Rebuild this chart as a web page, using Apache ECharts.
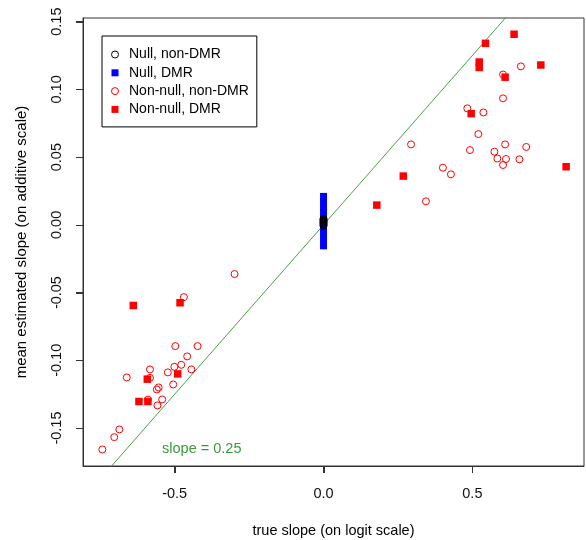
<!DOCTYPE html>
<html>
<head>
<meta charset="utf-8">
<script src="https://cdn.jsdelivr.net/npm/echarts@6/dist/echarts.min.js"></script>
<style>html,body{margin:0;padding:0;background:#fff;}#c{width:586px;height:540px;}</style>
</head>
<body>
<div id="c"></div>
<script>
// ---- data ----
const seriesNames = ['Null, non-DMR', 'Null, DMR', 'Non-null, non-DMR', 'Non-null, DMR'];
const xTicks = [-0.5, 0.0, 0.5];
const yTicks = [-0.15, -0.10, -0.05, 0.00, 0.05, 0.10, 0.15];
const xRange = [-0.808, 0.875];
const yRange = [-0.178, 0.1527];
const refSlope = 0.25;
const refLabel = 'slope = 0.25';

const nullNonDMR = [
  [0, 0.0045], [0, 0.0038], [0, 0.0030], [0, 0.0023], [0, 0.0015], [0, 0.0008], [0, 0.0000], [0, -0.0007]
];
const nullDMR = [
  [0, 0.0210], [0, 0.0170], [0, 0.0130], [0, 0.0090], [0, 0.0050], [0, 0.0010],
  [0, -0.0030], [0, -0.0070], [0, -0.0110], [0, -0.0155]
];
const nonNullNonDMR = [
  [0.663, 0.1170], [0.603, 0.1110], [0.603, 0.0934], [0.483, 0.0860], [0.537, 0.0830],
  [0.520, 0.0670], [0.294, 0.0594], [0.610, 0.0594], [0.681, 0.0575], [0.492, 0.0552],
  [0.574, 0.0540], [0.584, 0.0490], [0.613, 0.0486], [0.658, 0.0484], [0.603, 0.0442],
  [0.401, 0.0422], [0.428, 0.0373], [0.344, 0.0174],
  [-0.299, -0.0363], [-0.469, -0.0533], [-0.498, -0.0895], [-0.423, -0.0895], [-0.458, -0.0971],
  [-0.583, -0.1067], [-0.501, -0.1048], [-0.478, -0.1033], [-0.523, -0.1089], [-0.444, -0.1067],
  [-0.661, -0.1126], [-0.583, -0.1129], [-0.554, -0.1200], [-0.560, -0.1215], [-0.505, -0.1178],
  [-0.542, -0.1289], [-0.558, -0.1333], [-0.590, -0.1290], [-0.686, -0.1510], [-0.703, -0.1567],
  [-0.743, -0.1658]
];
const nonNullDMR = [
  [0.640, 0.1407], [0.544, 0.1340], [0.523, 0.1202], [0.523, 0.1162], [0.730, 0.1180],
  [0.610, 0.1090], [0.496, 0.0821], [0.815, 0.0429], [0.268, 0.0360], [0.179, 0.0146],
  [-0.639, -0.0595], [-0.482, -0.0575], [-0.592, -0.1139], [-0.490, -0.1100],
  [-0.620, -0.1304], [-0.590, -0.1304]
];

const FONT = '"Liberation Sans", Arial, sans-serif';
const chart = echarts.init(document.getElementById('c'), null, {renderer: 'canvas'});
const sq = 'path://M0,0L10,0L10,10L0,10Z';

chart.setOption({
  animation: false,
  backgroundColor: '#fff',
  textStyle: {fontFamily: FONT},
  grid: {left: 83, right: 2, top: 18, bottom: 74, containLabel: false, outerBoundsMode: 'none',
    show: true, borderColor: '#333', borderWidth: 1, backgroundColor: 'transparent'},
  legend: {
    orient: 'vertical', left: 102, top: 36,
    padding: [11.5, 8, 10.5, 9], itemGap: 4.3, itemWidth: 18, itemHeight: 7,
    borderColor: '#000', borderWidth: 1, borderRadius: 0,
    textStyle: {fontSize: 14, color: '#000', fontFamily: FONT},
    selectedMode: false,
    data: [
      {name: seriesNames[0], icon: 'circle', itemStyle: {color: 'rgba(0,0,0,0)', borderColor: '#000', borderWidth: 1}},
      {name: seriesNames[1], icon: sq, itemStyle: {color: '#0000ff', borderWidth: 0}},
      {name: seriesNames[2], icon: 'circle', itemStyle: {color: 'rgba(0,0,0,0)', borderColor: '#ff0000', borderWidth: 1}},
      {name: seriesNames[3], icon: sq, itemStyle: {color: '#ff0000', borderWidth: 0}}
    ]
  },
  xAxis: {
    type: 'value', min: xRange[0], max: xRange[1],
    name: 'true slope (on logit scale)', nameLocation: 'middle', nameGap: 57,
    nameTextStyle: {fontSize: 14.5, color: '#000', fontFamily: FONT},
    axisLine: {show: true, onZero: false, lineStyle: {color: '#333', width: 1}},
    splitLine: {show: false},
    axisTick: {show: true, inside: false, length: 7, lineStyle: {color: '#333'}, customValues: xTicks},
    axisLabel: {show: true, margin: 20, fontSize: 14.5, color: '#111', fontFamily: FONT, customValues: xTicks,
      formatter: v => v.toFixed(1)}
  },
  yAxis: {
    type: 'value', min: yRange[0], max: yRange[1],
    name: 'mean estimated slope (on additive scale)', nameLocation: 'middle', nameGap: 54,
    nameTextStyle: {fontSize: 15, color: '#000', fontFamily: FONT},
    axisLine: {show: true, onZero: false, lineStyle: {color: '#333', width: 1}},
    splitLine: {show: false},
    axisTick: {show: true, inside: false, length: 7, lineStyle: {color: '#333'}, customValues: yTicks},
    axisLabel: {show: true, rotate: 90, margin: 19, fontSize: 14.5, color: '#111', fontFamily: FONT, customValues: yTicks,
      formatter: v => v.toFixed(2)}
  },
  series: [
    {
      name: 'ref', type: 'line', silent: true, z: 1, clip: true, showSymbol: false, symbol: 'none',
      data: [[xRange[0], refSlope * xRange[0]], [xRange[1], refSlope * xRange[1]]],
      lineStyle: {color: '#4a9f4a', width: 1}
    },
    {
      name: seriesNames[1], type: 'scatter', z: 3, symbol: 'rect', symbolSize: 7,
      itemStyle: {color: '#0000ff', opacity: 1}, data: nullDMR
    },
    {
      name: seriesNames[0], type: 'scatter', z: 4, symbol: 'circle', symbolSize: 7,
      itemStyle: {color: 'rgba(0,0,0,0)', borderColor: '#000', borderWidth: 1, opacity: 1}, data: nullNonDMR
    },
    {
      name: seriesNames[2], type: 'scatter', z: 5, symbol: 'circle', symbolSize: 7,
      itemStyle: {color: 'rgba(0,0,0,0)', borderColor: '#ff0000', borderWidth: 1, opacity: 1}, data: nonNullNonDMR
    },
    {
      name: seriesNames[3], type: 'scatter', z: 6, symbol: 'rect', symbolSize: 7.5,
      itemStyle: {color: '#ff0000', opacity: 1}, data: nonNullDMR
    }
  ]
});

// tick marks placed through the chart's own scales
const TL = 7;
const g = [];
xTicks.forEach(t => {
  const q = chart.convertToPixel({gridIndex: 0}, [t, yRange[0]]);
  const x = Math.round(q[0]) + 0.5;
  g.push({type: 'line', silent: true, z: 10, shape: {x1: x, y1: q[1], x2: x, y2: q[1] + TL}, style: {stroke: '#333', lineWidth: 1}});
});
yTicks.forEach(t => {
  const q = chart.convertToPixel({gridIndex: 0}, [xRange[0], t]);
  const y = Math.round(q[1]) + 0.5;
  g.push({type: 'line', silent: true, z: 10, shape: {x1: q[0] - TL, y1: y, x2: q[0], y2: y}, style: {stroke: '#333', lineWidth: 1}});
});
const p = chart.convertToPixel({gridIndex: 0}, [-0.409, -0.1656]);
g.push({
  type: 'text', x: p[0], y: p[1], silent: true, z: 10,
  style: {text: refLabel, fill: '#3a9a3a', font: '14.5px ' + FONT, textAlign: 'center', textVerticalAlign: 'middle'}
});
chart.setOption({graphic: g});
</script>
</body>
</html>
